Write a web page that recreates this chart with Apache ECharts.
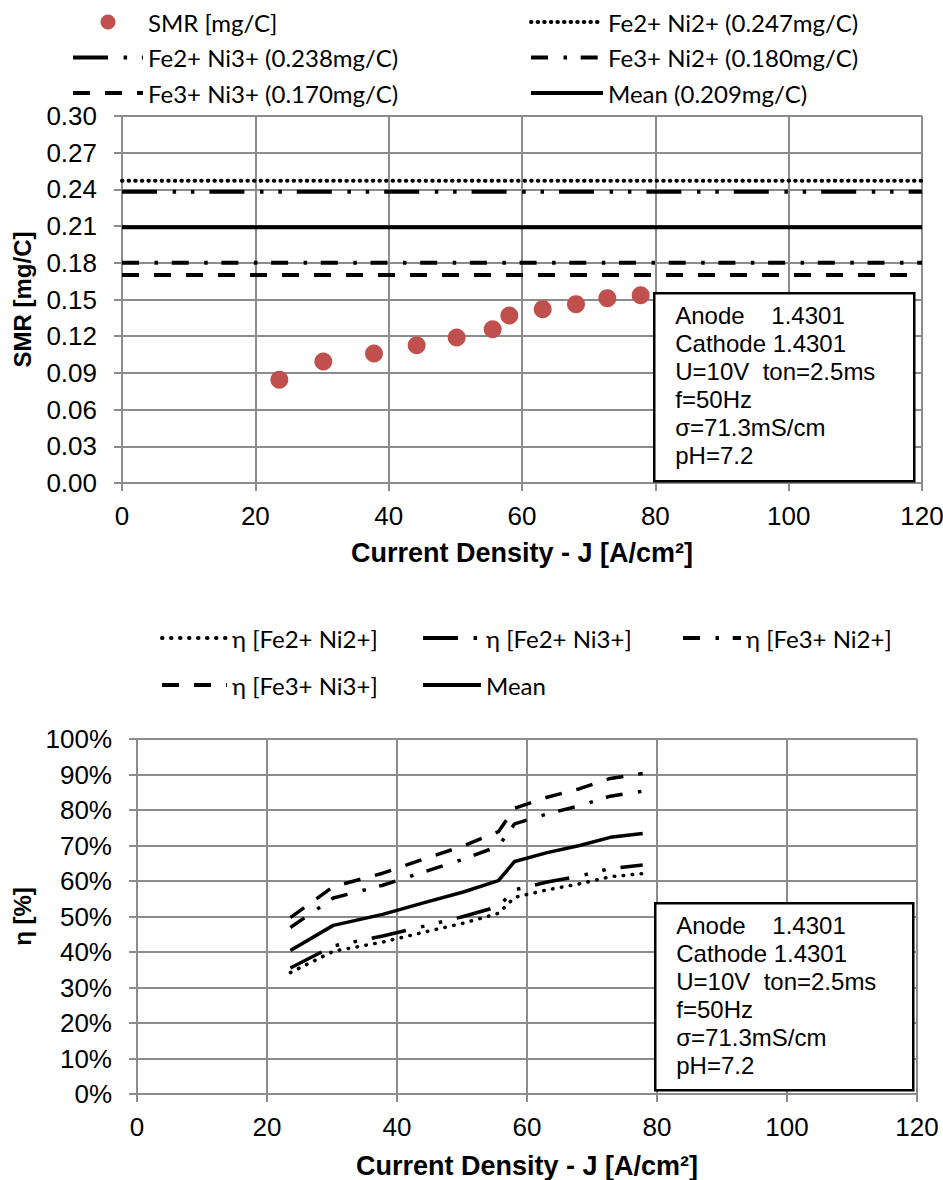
<!DOCTYPE html>
<html>
<head>
<meta charset="utf-8">
<title>SMR and current efficiency vs. current density</title>
<script src="https://cdn.jsdelivr.net/npm/echarts@6/dist/echarts.min.js"></script>
<style>
  html, body { margin: 0; padding: 0; background: #fff; }
  #chart { width: 943px; height: 1180px; }
</style>
</head>
<body>
<div id="chart"></div>
<script>
// Measured specific metal removal (SMR) over current density J
const J = [23.6, 30.2, 37.8, 44.2, 50.2, 55.6, 58.1, 63.1, 68.1, 72.8, 77.8];
const SMR = [0.0845, 0.0993, 0.1058, 0.1126, 0.1189, 0.1257, 0.1369, 0.1421, 0.1462, 0.1511, 0.1535];

// Theoretical SMR for each assumed dissolution valence pair, plus their mean
const REF_NAMES = ['Fe2+ Ni2+', 'Fe2+ Ni3+', 'Fe3+ Ni2+', 'Fe3+ Ni3+', 'Mean'];
const REF_SMR = [0.247, 0.238, 0.180, 0.170, 0.209];
const J_SPAN = [0, 120];

// Current efficiency η [%] for each valence assumption
const ETA_FE2_NI2 = [34.2, 40.2, 42.8, 45.6, 48.1, 50.9, 55.4, 57.5, 59.2, 61.2, 62.1];
const ETA_FE2_NI3 = [35.5, 41.7, 44.5, 47.3, 50.0, 52.8, 57.5, 59.7, 61.4, 63.5, 64.5];
const ETA_FE3_NI2 = [46.9, 55.2, 58.8, 62.6, 66.1, 69.8, 76.1, 78.9, 81.2, 83.9, 85.3];
const ETA_FE3_NI3 = [49.7, 58.4, 62.2, 66.2, 69.9, 73.9, 80.5, 83.6, 86.0, 88.9, 90.3];
const ETA_MEAN    = [40.4, 47.5, 50.6, 53.9, 56.9, 60.1, 65.5, 68.0, 70.0, 72.3, 73.4];

// Axis ticks
const X_TICKS = { min: 0, max: 120, interval: 20 };
const SMR_TICKS = { min: 0, max: 0.30, interval: 0.03 };
const ETA_TICKS = { min: 0, max: 100, interval: 10 };

// Process conditions shown in the annotation boxes
const CONDITIONS = ['Anode    1.4301', 'Cathode 1.4301', 'U=10V  ton=2.5ms', 'f=50Hz', 'σ=71.3mS/cm', 'pH=7.2'];

// ---- styling ----
const AXIS_FONT = 'Liberation Sans, Arial, sans-serif';
const LEGEND_FONT = 'Lato, Liberation Sans, sans-serif';
const GRID_GRAY = '#8c8c8c';

// Dash patterns for the five line styles (index matches REF_NAMES)
const DASH_TOP = [[0.5, 6.1], [35, 15.6, 3.5, 14.8, 3.5, 15], [17, 15.5, 3.5, 13.7], [17, 15], 'solid'];
const DASH_BOT = [[0.5, 8.5], [35, 15.6, 3.5, 14.8, 3.5, 15], [17, 15.5, 3.5, 13.7], [17, 15], 'solid'];
const CAPS = ['round', 'butt', 'butt', 'butt', 'butt'];

const refLabel = (i) => REF_NAMES[i] === 'Mean'
  ? 'Mean (' + REF_SMR[i].toFixed(3) + 'mg/C)'
  : REF_NAMES[i] + ' (' + REF_SMR[i].toFixed(3) + 'mg/C)';
const etaLabel = (i) => REF_NAMES[i] === 'Mean' ? 'Mean' : 'η [' + REF_NAMES[i] + ']';
const ETA = [ETA_FE2_NI2, ETA_FE2_NI3, ETA_FE3_NI2, ETA_FE3_NI3, ETA_MEAN];

function xAxis(gridIndex, gap) {
  return {
    type: 'value', gridIndex,
    min: X_TICKS.min, max: X_TICKS.max, interval: X_TICKS.interval,
    name: 'Current Density - J [A/cm²]',
    nameLocation: 'middle', nameGap: gap, nameMoveOverlap: false,
    nameTextStyle: { fontFamily: AXIS_FONT, fontSize: 27, fontWeight: 'bold', color: '#000' },
    axisLine: { show: true, onZero: false, lineStyle: { color: GRID_GRAY, width: 2 } },
    axisTick: { show: true, inside: false, length: 8, lineStyle: { color: GRID_GRAY, width: 2 } },
    axisLabel: { fontFamily: AXIS_FONT, fontSize: 26, color: '#000', margin: 20 },
    splitLine: { show: true, lineStyle: { color: GRID_GRAY, width: 2 } }
  };
}

function yAxis(gridIndex, ticks, name, gap, fmt) {
  return {
    type: 'value', gridIndex,
    min: ticks.min, max: ticks.max, interval: ticks.interval,
    name, nameLocation: 'middle', nameGap: gap, nameMoveOverlap: false,
    nameTextStyle: { fontFamily: AXIS_FONT, fontSize: 24, fontWeight: 'bold', color: '#000' },
    axisLine: { show: true, onZero: false, lineStyle: { color: GRID_GRAY, width: 2 } },
    axisTick: { show: true, inside: false, length: 8, lineStyle: { color: GRID_GRAY, width: 2 } },
    axisLabel: { fontFamily: AXIS_FONT, fontSize: 26, color: '#000', margin: 25, formatter: fmt },
    splitLine: { show: true, lineStyle: { color: GRID_GRAY, width: 2 } }
  };
}

const series = [];
// Upper chart: measured SMR points
series.push({
  name: 'SMR [mg/C]', type: 'scatter', xAxisIndex: 0, yAxisIndex: 0,
  symbol: 'circle', symbolSize: 18,
  itemStyle: { color: '#C0504D', opacity: 1 },
  data: J.map((x, k) => [x, SMR[k]]), z: 5
});
// Upper chart: theoretical SMR levels
REF_NAMES.forEach((n, i) => {
  series.push({
    name: refLabel(i), type: 'line', xAxisIndex: 0, yAxisIndex: 0,
    symbol: 'none', showSymbol: false,
    itemStyle: { color: '#000' },
    lineStyle: { color: '#000', width: 4, type: DASH_TOP[i], cap: CAPS[i] },
    data: J_SPAN.map(x => [x, REF_SMR[i]]), z: 3
  });
});
// Lower chart: current efficiency curves
REF_NAMES.forEach((n, i) => {
  series.push({
    name: etaLabel(i), type: 'line', xAxisIndex: 1, yAxisIndex: 1,
    symbol: 'none', showSymbol: false,
    itemStyle: { color: '#000' },
    lineStyle: { color: '#000', width: 3.5, type: DASH_BOT[i], cap: CAPS[i] },
    data: J.map((x, k) => [x, ETA[i][k]]), z: 3
  });
});

// Legend entry for a line series: line only, no marker
function lineEntry(name, dash, cap) {
  return {
    name,
    itemStyle: { opacity: 0, borderWidth: 0 },
    lineStyle: { color: '#000', width: 4, type: dash, cap }
  };
}

function legend(left, top, entries, itemWidth, gap) {
  return {
    orient: 'vertical', left, top, padding: 0,
    itemWidth, itemHeight: 15, itemGap: gap,
    selectedMode: false,
    textStyle: { fontFamily: LEGEND_FONT, fontSize: 24, color: '#000', lineHeight: 24 },
    data: entries
  };
}

function conditionBox(x, y, w, h) {
  return {
    type: 'group', left: x, top: y, z: 100,
    children: [
      { type: 'rect', z: 100, shape: { x: 0, y: 0, width: w, height: h },
        style: { fill: '#fff', stroke: '#000', lineWidth: 2.5 } },
      { type: 'text', z: 101, x: 21, y: 8,
        style: { text: CONDITIONS.join('\n'), font: '24px ' + AXIS_FONT, lineHeight: 28, fill: '#000' } }
    ]
  };
}

const chart = echarts.init(document.getElementById('chart'), null, { renderer: 'svg', width: 943, height: 1180 });
chart.setOption({
  animation: false,
  backgroundColor: '#fff',
  grid: [
    { left: 122, top: 116, width: 800, height: 367, outerBoundsMode: 'none', containLabel: false },
    { left: 137, top: 739, width: 780, height: 355, outerBoundsMode: 'none', containLabel: false }
  ],
  xAxis: [xAxis(0, 56), xAxis(1, 58)],
  yAxis: [
    yAxis(0, SMR_TICKS, 'SMR [mg/C]', 88, v => v.toFixed(2)),
    yAxis(1, ETA_TICKS, 'η [%]', 103, v => Math.round(v) + '%')
  ],
  legend: [
    legend(71, 10, ['SMR [mg/C]', lineEntry(refLabel(1), DASH_TOP[1], CAPS[1]), lineEntry(refLabel(3), DASH_TOP[3], CAPS[3])], 70, 11.5),
    legend(529, 10, [lineEntry(refLabel(0), DASH_TOP[0], CAPS[0]), lineEntry(refLabel(2), DASH_TOP[2], CAPS[2]), lineEntry(refLabel(4), DASH_TOP[4], CAPS[4])], 72, 11.5),
    legend(160, 626, [lineEntry(etaLabel(0), DASH_BOT[0], CAPS[0]), lineEntry(etaLabel(3), DASH_BOT[3], CAPS[3])], 65, 23),
    legend(421, 626, [lineEntry(etaLabel(1), DASH_BOT[1], CAPS[1]), lineEntry(etaLabel(4), DASH_BOT[4], CAPS[4])], 58, 23),
    legend(681, 626, [lineEntry(etaLabel(2), DASH_BOT[2], CAPS[2])], 58, 23)
  ],
  graphic: [conditionBox(653, 292, 260, 188), conditionBox(654, 902, 258, 187)],
  series
});
</script>
</body>
</html>
